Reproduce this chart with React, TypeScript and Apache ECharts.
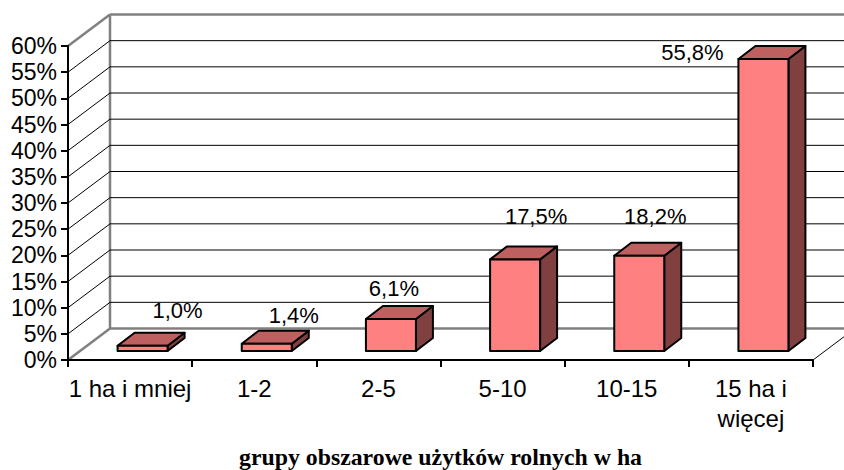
import React, { useEffect, useRef } from "react";
import * as echarts from "echarts";

const categories = ["1 ha i mniej", "1-2", "2-5", "5-10", "10-15", "15 ha i\nwięcej"];
const shares = [1.0, 1.4, 6.1, 17.5, 18.2, 55.8];
const shareLabels = ["1,0%", "1,4%", "6,1%", "17,5%", "18,2%", "55,8%"];
const wallTicks = [0, 5, 10, 15, 20, 25, 30, 35, 40, 45, 50, 55, 60];
const xAxisTitle = "grupy obszarowe użytków rolnych w ha";

const WALL_DX = 42;
const WALL_DY = -31.5;
const BAR_SHIFT_X = 12.5;
const BAR_SHIFT_Y = -9;
const BAR_DX = 17;
const BAR_DY = -13;
const BAR_W = 50;
const FONT = "'Liberation Sans', Arial, sans-serif";
// hand-placed data labels in the reference: offset from the bar's front top-centre
const LABEL_OFFSETS = [
  [35, -35],
  [27, -28],
  [3, -31],
  [21, -43],
  [16, -39],
  [-71, -6],
];

function renderWall(params: any, api: any) {
  const v = api.value(0);
  const cs = params.coordSys;
  const y = api.coord([0, v])[1];
  const x0 = cs.x;
  const x1 = cs.x + cs.width;
  const edge = v === 0 || v === 60;
  const col = edge ? "#808080" : "#000000";
  const lw = edge ? 2.5 : 1;
  const children: any[] = [
    { type: "line", shape: { x1: x0, y1: y, x2: x0 + WALL_DX, y2: y + WALL_DY }, style: { stroke: col, lineWidth: lw } },
    { type: "line", shape: { x1: x0 + WALL_DX, y1: y + WALL_DY, x2: x1 + WALL_DX, y2: y + WALL_DY }, style: { stroke: col, lineWidth: lw } },
  ];
  if (v === 0) {
    children.push({ type: "line", shape: { x1, y1: y, x2: x1 + WALL_DX, y2: y + WALL_DY }, style: { stroke: "#000", lineWidth: 1 } });
    const top = api.coord([0, 60])[1];
    children.push({ type: "line", shape: { x1: x0 + WALL_DX, y1: y + WALL_DY, x2: x0 + WALL_DX, y2: top + WALL_DY }, style: { stroke: "#808080", lineWidth: 2.5 } });
  }
  return { type: "group", children };
}

function renderBar(params: any, api: any) {
  const i = api.value(0);
  const v = api.value(1);
  const top = api.coord([i, v]);
  const base = api.coord([i, 0]);
  const l = top[0] - BAR_W / 2 + BAR_SHIFT_X;
  const r = l + BAR_W;
  const t = top[1] + BAR_SHIFT_Y;
  const b = base[1] + BAR_SHIFT_Y;
  const line = { stroke: "#000", lineWidth: 2, lineJoin: "round" };
  const off = LABEL_OFFSETS[i];
  return {
    type: "group",
    children: [
      { type: "polygon", shape: { points: [[r, t], [r + BAR_DX, t + BAR_DY], [r + BAR_DX, b + BAR_DY], [r, b]] }, style: { fill: "#804040", ...line } },
      { type: "polygon", shape: { points: [[l, t], [l + BAR_DX, t + BAR_DY], [r + BAR_DX, t + BAR_DY], [r, t]] }, style: { fill: "#BF6060", ...line } },
      { type: "rect", shape: { x: l, y: t, width: BAR_W, height: b - t }, style: { fill: "#FF8080", ...line } },
      {
        type: "text",
        x: (l + r) / 2 + off[0],
        y: t + off[1],
        style: { text: shareLabels[i], font: `22px ${FONT}`, fill: "#000", textAlign: "center", textVerticalAlign: "middle" },
      },
    ],
  };
}

export default function App() {
  const ref = useRef<HTMLDivElement>(null);
  useEffect(() => {
    document.body.style.margin = "0";
    const chart = echarts.init(ref.current!, null, { renderer: "svg" });
    chart.setOption({
      animation: false,
      backgroundColor: "#fff",
      grid: { left: 68, right: 31, top: 46, height: 314, containLabel: false, outerBoundsMode: "none" },
      xAxis: {
        type: "category",
        data: categories,
        axisLine: { show: true, lineStyle: { color: "#000", width: 2 } },
        axisTick: { show: true, length: 7, lineStyle: { color: "#000", width: 2 } },
        axisLabel: { color: "#000", fontFamily: "Liberation Sans", fontSize: 24, margin: 13, lineHeight: 30, interval: 0 },
        name: xAxisTitle,
        nameLocation: "middle",
        nameGap: 85,
        nameTextStyle: { color: "#000", fontFamily: "Liberation Serif", fontWeight: "bold", fontSize: 23.8 },
        z: 5,
      },
      yAxis: {
        type: "value",
        min: 0,
        max: 60,
        interval: 5,
        splitLine: { show: false },
        axisLine: { show: true, lineStyle: { color: "#000", width: 2 } },
        axisTick: { show: true, length: 7, lineStyle: { color: "#000", width: 2 } },
        axisLabel: { color: "#000", fontFamily: "Liberation Sans", fontSize: 23, margin: 11, formatter: "{value}%" },
        z: 5,
      },
      series: [
        { type: "custom", coordinateSystem: "cartesian2d", renderItem: renderWall, data: wallTicks.map((v) => [v]), encode: { y: 0 }, z: 1, silent: true },
        { type: "custom", coordinateSystem: "cartesian2d", renderItem: renderBar, data: shares.map((v, i) => [i, v]), encode: { x: 0, y: 1 }, z: 3, silent: true },
      ],
    });
    return () => chart.dispose();
  }, []);
  return <div ref={ref} style={{ width: 844, height: 470 }} />;
}
